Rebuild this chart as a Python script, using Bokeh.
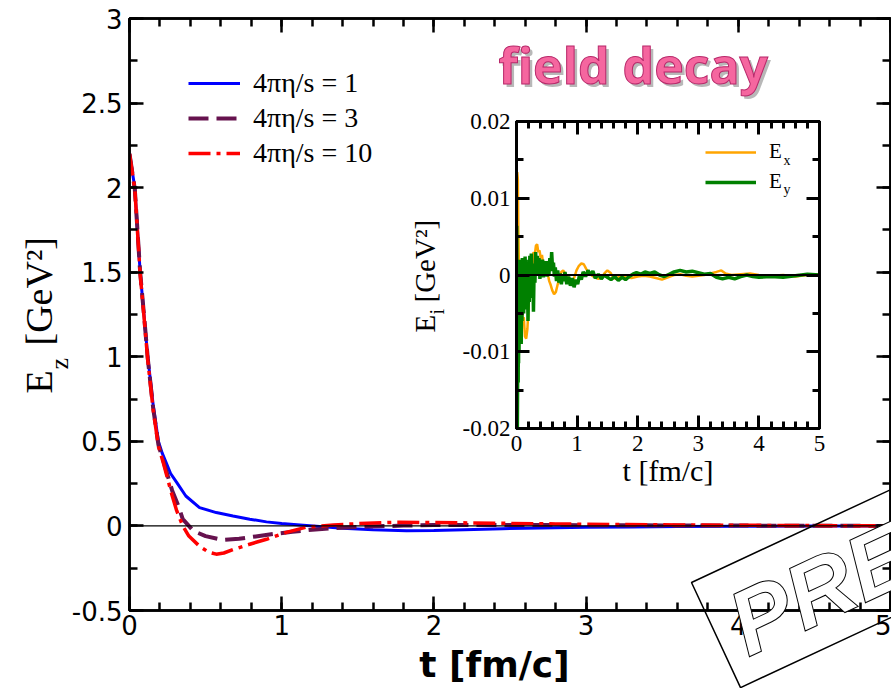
import numpy as np
from bokeh.plotting import figure
from bokeh.models import (Range1d, LinearAxis, FixedTicker, Span, Legend, LegendItem,
                          Label, GridBox)
from bokeh.embed import file_html
from bokeh.resources import INLINE

# ---------------- data: main panel (E_z vs t) ----------------
t_eta1 = [0, 0.035, 0.07, 0.095, 0.12, 0.155, 0.19, 0.215, 0.24, 0.27, 0.31, 0.37, 0.46, 0.57,
          0.68, 0.79, 0.9, 1.0, 1.12, 1.25, 1.4, 1.6, 1.82, 2.0, 2.2, 2.45, 2.7, 3.0, 3.3, 3.6,
          4.0, 4.5, 5.0]
ez_eta1 = [2.2, 2.0, 1.5, 1.25, 1.0, 0.72, 0.5, 0.43, 0.376, 0.31, 0.257, 0.177, 0.108, 0.079,
           0.059, 0.04, 0.024, 0.014, 0.006, -0.004, -0.014, -0.022, -0.028, -0.027, -0.022,
           -0.016, -0.012, -0.008, -0.006, -0.004, -0.002, -0.001, 0.0]

t_eta3 = [0, 0.035, 0.07, 0.095, 0.12, 0.155, 0.19, 0.22, 0.25, 0.28, 0.32, 0.35, 0.42, 0.5,
          0.61, 0.72, 0.83, 0.95, 1.07, 1.2, 1.35, 1.56, 1.8, 2.0, 2.4, 2.8, 3.2, 3.6, 4.0, 4.5,
          5.0]
ez_eta3 = [2.2, 1.99, 1.5, 1.25, 0.99, 0.7, 0.48, 0.39, 0.3, 0.21, 0.12, 0.04, -0.03, -0.06,
           -0.083, -0.076, -0.062, -0.047, -0.035, -0.022, -0.012, -0.004, 0.002, 0.005,
           0.006, 0.005, 0.004, 0.003, 0.002, 0.001, 0.0]

t_eta10 = [0, 0.035, 0.07, 0.095, 0.12, 0.155, 0.19, 0.22, 0.25, 0.28, 0.31, 0.35, 0.39, 0.46,
           0.52, 0.57, 0.62, 0.68, 0.79, 0.9, 1.03, 1.16, 1.34, 1.56, 1.78, 2.0, 2.4, 2.8, 3.2,
           3.6, 4.0, 4.5, 5.0]
ez_eta10 = [2.2, 1.99, 1.49, 1.24, 0.98, 0.69, 0.47, 0.38, 0.28, 0.18, 0.09, 0.0, -0.06,
            -0.12, -0.155, -0.167, -0.16, -0.14, -0.108, -0.079, -0.038, -0.008, 0.006,
            0.016, 0.022, 0.02, 0.016, 0.012, 0.008, 0.006, 0.004, 0.002, 0.001]

series_labels = ["4\u03c0\u03b7/s = 1", "4\u03c0\u03b7/s = 3", "4\u03c0\u03b7/s = 10"]

x_ticks = [0, 1, 2, 3, 4, 5]
x_tick_labels = ["0", "1", "2", "3", "4", "5"]
y_ticks = [-0.5, 0, 0.5, 1, 1.5, 2, 2.5, 3]
y_tick_labels = ["-0.5", "0", "0.5", "1", "1.5", "2", "2.5", "3"]

# ---------------- data: inset (E_x, E_y vs t) ----------------
t_ex = [0.0, 0.012, 0.022, 0.03, 0.038, 0.048, 0.06, 0.08, 0.1, 0.12, 0.14, 0.16, 0.18, 0.2,
        0.22, 0.24, 0.26, 0.28, 0.3, 0.32, 0.34, 0.36, 0.38, 0.4, 0.42, 0.44, 0.46, 0.48, 0.5,
        0.52, 0.54, 0.56, 0.59, 0.62, 0.65, 0.68, 0.71, 0.74, 0.77, 0.8, 0.83, 0.87, 0.91,
        0.95, 0.99, 1.03, 1.07, 1.11, 1.15, 1.2, 1.25, 1.3, 1.35, 1.4, 1.45, 1.5, 1.55, 1.6,
        1.65, 1.7, 1.8, 1.9, 2.0, 2.1, 2.2, 2.3, 2.4, 2.5, 2.6, 2.7, 2.8, 2.9, 3.0, 3.1, 3.2,
        3.3, 3.38, 3.45, 3.55, 3.7, 3.85, 4.0, 4.2, 4.4, 4.6, 4.8, 5.0]
ex = [0.003, 0.0134, 0.0125, 0.006, 0.002, -0.002, -0.0045, -0.003, -0.006, -0.0055, -0.008,
      -0.0083, -0.007, -0.004, -0.001, 0.001, 0.0005, 0.003, 0.0025, 0.0038, 0.004, 0.003,
      0.0032, 0.0022, 0.0026, 0.0015, 0.0018, 0.0008, 0.0006, 0.0, -0.0008, -0.0012, -0.002,
      -0.0025, -0.0022, -0.0012, -0.0005, 0.0004, 0.0006, 0.0002, -0.0002, -0.0004, -0.0007,
      -0.0004, 0.0006, 0.0012, 0.0015, 0.0014, 0.0008, 0.0002, -0.0001, -0.0003, -0.0005,
      -0.0004, 0.0002, 0.0006, 0.0003, -0.0004, -0.0005, -0.0001, -0.0003, -0.0004, -0.0002,
      -0.0001, -0.0002, -0.0004, -0.0006, -0.0003, 0.0, 0.0001, -0.0001, -0.0002, -0.0001,
      0.0, 0.0002, 0.0004, 0.0006, 0.0002, 0.0, 0.0001, 0.0002, 0.0, -0.0001, 0.0, -0.0002,
      0.0, 0.0001]

t_ey = [0.004, 0.014, 0.024, 0.028, 0.031, 0.034, 0.038, 0.042, 0.048, 0.054, 0.06, 0.066,
        0.072, 0.078, 0.084, 0.09, 0.096, 0.102, 0.11, 0.118, 0.126, 0.134, 0.142, 0.15, 0.16,
        0.17, 0.18, 0.19, 0.2, 0.21, 0.22, 0.232, 0.244, 0.256, 0.268, 0.28, 0.292, 0.304,
        0.316, 0.33, 0.344, 0.358, 0.372, 0.386, 0.4, 0.415, 0.43, 0.445, 0.46, 0.475, 0.49,
        0.505, 0.52, 0.535, 0.55, 0.565, 0.58, 0.595, 0.61, 0.625, 0.64, 0.66, 0.68, 0.7, 0.72,
        0.74, 0.76, 0.78, 0.8, 0.83, 0.86, 0.89, 0.92, 0.95, 0.98, 1.01, 1.04, 1.07, 1.1, 1.14,
        1.18, 1.22, 1.26, 1.3, 1.35, 1.4, 1.45, 1.5, 1.56, 1.62, 1.68, 1.74, 1.8, 1.86, 1.92,
        1.98, 2.05, 2.12, 2.2, 2.28, 2.36, 2.44, 2.52, 2.6, 2.7, 2.8, 2.9, 3.0, 3.1, 3.2, 3.3,
        3.4, 3.5, 3.6, 3.7, 3.8, 3.9, 4.0, 4.2, 4.4, 4.6, 4.8, 5.0]
ey = [0.0064, -0.02, -0.006, -0.014, -0.003, -0.0115, -0.001, -0.01, 0.001, -0.008, 0.002,
      -0.0065, 0.0018, -0.009, 0.0015, -0.006, 0.0022, -0.004, 0.002, -0.005, 0.0015, -0.003,
      0.0024, -0.002, 0.002, -0.0045, 0.001, -0.006, 0.0005, -0.0035, 0.0025, -0.002, 0.0028,
      -0.003, 0.001, -0.0048, 0.0015, -0.001, 0.003, 0.0, 0.0025, 0.0005, 0.0022, -0.0005,
      0.0018, 0.0002, 0.002, -0.0003, 0.0015, 0.0, 0.0018, -0.0002, 0.0012, 0.0, 0.0022,
      0.0005, 0.003, 0.0008, 0.0016, -0.0002, 0.001, -0.0008, 0.0006, -0.001, 0.0002, -0.0012,
      0.0, -0.0008, 0.0004, -0.0012, -0.0002, -0.0014, -0.0004, -0.0016, -0.0006, -0.0012,
      0.0, -0.0006, 0.0004, -0.0002, 0.0006, 0.0, 0.0005, -0.0004, 0.0001, -0.0005, 0.0,
      -0.0003, -0.0006, -0.0002, -0.0007, -0.0003, -0.0006, -0.0002, 0.0001, 0.0003, 0.0001,
      0.0004, 0.0002, 0.0004, 0.0, -0.0002, 0.0001, 0.0004, 0.0006, 0.0004, 0.0005, 0.0003,
      0.0001, 0.0002, -0.0003, -0.0005, -0.0003, -0.0005, -0.0002, 0.0, -0.0002, -0.0003,
      -0.0002, -0.0003, -0.0001, 0.0001, 0.0]

inset_x_ticks = [0, 1, 2, 3, 4, 5]
inset_x_tick_labels = ["0", "1", "2", "3", "4", "5"]
inset_y_ticks = [-0.02, -0.01, 0, 0.01, 0.02]
inset_y_tick_labels = ["-0.02", "-0.01", "0", "0.01", "0.02"]

SANS = "DejaVu Sans"
SERIF = "Liberation Serif"
W, H = 891, 688


def make_axis(ticks, minor, labels, font, size, standoff, show_labels=True, lw=2.5,
              maj=14, mnr=8):
    ax = LinearAxis(ticker=FixedTicker(ticks=ticks, minor_ticks=minor))
    if show_labels:
        ax.major_label_overrides = {t: l for t, l in zip(ticks, labels)}
        ax.major_label_text_font = font
        ax.major_label_text_font_size = size
        ax.major_label_text_color = "black"
        ax.major_label_standoff = standoff
    else:
        ax.major_label_overrides = {t: "" for t in ticks}
        ax.major_label_standoff = 0
    ax.axis_line_width = lw
    ax.axis_line_color = "black"
    ax.major_tick_in = maj
    ax.major_tick_out = 0
    ax.minor_tick_in = mnr
    ax.minor_tick_out = 0
    ax.major_tick_line_width = lw
    ax.minor_tick_line_width = lw
    return ax


# ---------------- main figure ----------------
main = figure(width=W, height=H, x_range=Range1d(0, 5), y_range=Range1d(-0.5, 3),
              output_backend="svg", toolbar_location=None,
              x_axis_location=None, y_axis_location=None,
              min_border_left=129, min_border_right=1, min_border_top=18,
              min_border_bottom=78)
main.grid.visible = False
main.outline_line_color = "black"
main.outline_line_width = 2.5
main.background_fill_color = "white"
main.border_fill_color = "white"

xminor = [round(v, 2) for v in np.arange(0, 5.01, 0.2)]
yminor = [round(v, 3) for v in np.arange(-0.5, 3.01, 0.25)]

main.add_layout(make_axis(x_ticks, xminor, x_tick_labels, SANS, "26px", 4), "below")
main.add_layout(make_axis(x_ticks, xminor, x_tick_labels, SANS, "26px", 0, False), "above")
main.add_layout(make_axis(y_ticks, yminor, y_tick_labels, SANS, "26px", 7), "left")
main.add_layout(make_axis(y_ticks, yminor, y_tick_labels, SANS, "26px", 0, False), "right")

main.add_layout(Span(location=0, dimension="width", line_color="black", line_width=1.2))

r1 = main.line(t_eta1, ez_eta1, line_color="#0000ff", line_width=3)
r3 = main.line(t_eta3, ez_eta3, line_color="#66124e", line_width=4, line_dash="20 8")
r10 = main.line(t_eta10, ez_eta10, line_color="#ff0000", line_width=3.5,
                line_dash="22 6 4 6")

leg = Legend(items=[LegendItem(label=series_labels[0], renderers=[r1]),
                    LegendItem(label=series_labels[1], renderers=[r3]),
                    LegendItem(label=series_labels[2], renderers=[r10])],
             location=(59, 441), orientation="vertical")
leg.label_text_font = SERIF
leg.label_text_font_size = "28px"
leg.label_text_color = "black"
leg.glyph_width = 52
leg.glyph_height = 30
leg.label_height = 30
leg.label_standoff = 13
leg.spacing = 3
leg.padding = 0
leg.margin = 0
leg.border_line_color = None
leg.background_fill_alpha = 0
main.add_layout(leg)

# ---------------- inset figure ----------------
inset = figure(width=425, height=390, x_range=Range1d(0, 5), y_range=Range1d(-0.02, 0.02),
               output_backend="svg", toolbar_location=None,
               x_axis_location=None, y_axis_location=None,
               min_border_left=111, min_border_right=11, min_border_top=16,
               min_border_bottom=67)
inset.grid.visible = False
inset.outline_line_color = "black"
inset.outline_line_width = 3
inset.background_fill_alpha = 0
inset.border_fill_alpha = 0

ixminor = [round(v, 2) for v in np.arange(0, 5.01, 0.2)]
iyminor = [round(v, 4) for v in np.arange(-0.02, 0.0201, 0.005)]
ixb = make_axis(inset_x_ticks, ixminor, inset_x_tick_labels, SERIF, "23px", 7, lw=3,
                maj=13, mnr=7)
ixb.axis_label = "t [fm/c]"
ixb.axis_label_text_font = SERIF
ixb.axis_label_text_font_style = "normal"
ixb.axis_label_text_font_size = "30px"
ixb.axis_label_text_color = "black"
ixb.axis_label_standoff = 0
inset.add_layout(ixb, "below")
inset.add_layout(make_axis(inset_x_ticks, ixminor, inset_x_tick_labels, SERIF, "23px", 0,
                           False, lw=3, maj=13, mnr=7), "above")
inset.add_layout(make_axis(inset_y_ticks, iyminor, inset_y_tick_labels, SERIF, "23px", 6,
                           lw=3, maj=13, mnr=7), "left")
inset.add_layout(make_axis(inset_y_ticks, iyminor, inset_y_tick_labels, SERIF, "23px", 0,
                           False, lw=3, maj=13, mnr=7), "right")

rx = inset.line(t_ex, ex, line_color="#ffa500", line_width=2.5)
ry = inset.line(t_ey, ey, line_color="#008000", line_width=3.5)
inset.add_layout(Span(location=0, dimension="width", line_color="black", line_width=2))

ileg = Legend(items=[LegendItem(label="E", renderers=[rx]),
                     LegendItem(label="E", renderers=[ry])],
              location=(189, 234), orientation="vertical")
ileg.label_text_font = SERIF
ileg.label_text_font_size = "21px"
ileg.label_text_color = "black"
ileg.glyph_width = 51
ileg.glyph_height = 22
ileg.label_height = 22
ileg.label_standoff = 13
ileg.spacing = 5
ileg.padding = 0
ileg.margin = 0
ileg.border_line_color = None
ileg.background_fill_alpha = 0
inset.add_layout(ileg)

# ---------------- transparent overlay for free-standing texts ----------------
ov = figure(width=W, height=H, x_range=Range1d(0, W), y_range=Range1d(0, H),
            output_backend="svg", toolbar_location=None,
            x_axis_location=None, y_axis_location=None, min_border=0,
            min_border_left=0, min_border_right=0, min_border_top=0, min_border_bottom=0)
ov.grid.visible = False
ov.outline_line_color = None
ov.background_fill_alpha = 0
ov.border_fill_alpha = 0


def lab(px, py, text, **kw):
    """Label placed at canvas pixel (px, py) measured from the top-left corner."""
    kw.setdefault("text_color", "black")
    ov.add_layout(Label(x=px, y=H - py, x_units="data", y_units="data", text=text, **kw))


ROT = dict(angle=np.pi / 2, text_align="left", text_baseline="alphabetic")
# main y-axis label  E_z [GeV^2]
lab(38, 393, "E", text_font=SERIF, text_font_size="38px", **ROT)
lab(59, 369, "z", text_font=SERIF, text_font_size="26px", **ROT)
lab(38, 345, "[GeV\u00b2]", text_font=SERIF, text_font_size="38px", **ROT)
# main x-axis label
lab(494, 664, "t [fm/c]", text_font=SANS, text_font_style="bold", text_font_size="36px",
    text_align="center", text_baseline="alphabetic")
# inset y-axis label  E_i [GeV^2]
lab(424, 332, "E", text_font=SERIF, text_font_size="29px", **ROT)
lab(436, 314, "i", text_font=SERIF, text_font_size="20px", **ROT)
lab(424, 302, "[GeV\u00b2]", text_font=SERIF, text_font_size="29px", **ROT)
# inset legend subscripts
lab(783, 167, "x", text_font=SERIF, text_font_size="14px")
lab(783, 196, "y", text_font=SERIF, text_font_size="14px")

# "field decay" with a soft shadow
lab(501, 101, "field decay", text_font="Open Sans", text_font_style="bold",
    text_font_size="50px", text_color="#9a9a9a", text_alpha=0.7)
title_kw = dict(text_font="Open Sans", text_font_style="bold", text_font_size="50px",
                text_color="#f5669f")
try:
    lab(498, 98, "field decay", text_outline_color="#b8286a", **title_kw)
except Exception:
    lab(498, 98, "field decay", **title_kw)

# PRELIMINARY stamp: rotated frame + outlined text
ang = np.deg2rad(25)
c0 = np.array([691.0, 582.0])            # top-left corner of the stamp frame (canvas px)
u = np.array([np.cos(ang), -np.sin(ang)])  # along the stamp (canvas, y down)
n = np.array([np.sin(ang), np.cos(ang)])   # across the stamp
bw, bh = 700.0, 116.0
cen = c0 + u * bw / 2 + n * bh / 2
ov.rect(x=[cen[0]], y=[H - cen[1]], width=[bw], height=[bh], angle=[ang],
        fill_color=None, line_color="black", line_width=1.5)
anchor = np.array([748.0, 658.0]) - n * 33
stamp_kw = dict(angle=ang, text_font="Liberation Sans", text_font_style="bold italic",
                text_font_size="92px", text_color="white", text_baseline="alphabetic")
try:
    lab(anchor[0], anchor[1], "PRELIMINARY", text_outline_color="black", **stamp_kw)
except Exception:
    lab(anchor[0], anchor[1], "PRELIMINARY", **stamp_kw)

# ---------------- overlay layout (zero-size outer tracks keep frames independent) -------
grid = GridBox(children=[(main, 1, 1, 3, 3), (inset, 2, 2, 1, 1), (ov, 0, 0, 5, 5)],
               rows=["0px", "105px", "390px", "193px", "0px"],
               cols=["0px", "405px", "425px", "61px", "0px"], spacing=0)

open("out.html", "w").write(file_html(grid, INLINE))
